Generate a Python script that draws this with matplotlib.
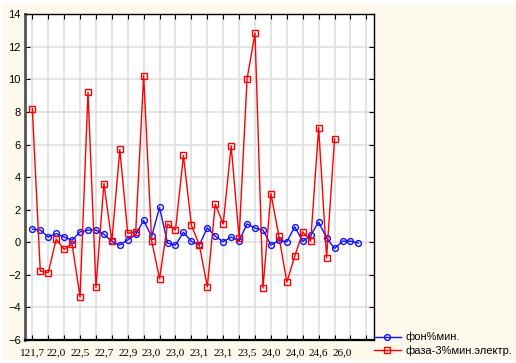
import numpy as np
import matplotlib
matplotlib.use("Agg")
import matplotlib.pyplot as plt
from matplotlib.patches import Rectangle

# --- data ---
fon = [0.81, 0.75, 0.32, 0.54, 0.32, 0.13, 0.64, 0.75, 0.75, 0.50,
       0.05, -0.17, 0.15, 0.48, 1.34, 0.36, 2.14, -0.05, -0.17, 0.62,
       0.05, -0.17, 0.89, 0.38, 0.03, 0.32, 0.09, 1.13, 0.87, 0.75,
       -0.17, 0.11, 0.03, 0.95, 0.05, 0.44, 1.24, 0.26, -0.38, 0.07,
       0.07, -0.05]
faza = [8.21, -1.77, -1.87, 0.19, -0.44, -0.11, -3.36, 9.21, -2.77, 3.61,
        0.05, 5.70, 0.54, 0.66, 10.24, 0.09, -2.24, 1.13, 0.75, 5.33,
        1.05, -0.17, -2.73, 2.34, 1.13, 5.92, 0.26, 10.03, 12.85, -2.81,
        2.99, 0.38, -2.44, -0.85, 0.64, 0.07, 7.04, -0.95, 6.35]
x_labels = ["121,7", "22,0", "22,5", "22,7", "22,9", "23,0", "23,0",
            "23,1", "23,1", "23,5", "24,0", "24,0", "24,6", "26,0"]
name_fon = "фон%мин."
name_faza = "фаза-3%мин.электр."

W, H = 516, 363
fig = plt.figure(figsize=(W / 100, H / 100), dpi=100, facecolor="white")
fig.patches.append(Rectangle((3 / W, 3 / H), 1, 1 - 6 / H, transform=fig.transFigure,
                             facecolor="#fef9ed", edgecolor="none", zorder=-10))

ax = fig.add_axes([25 / W, 1 - 340 / H, (374 - 25) / W, (340 - 14.3) / H])
ax.set_facecolor("white")

ax.plot(np.arange(len(fon)), fon, color="#1010ff", lw=1.0, marker="o", ms=4.2,
        mfc="none", mec="#1010ff", mew=1.0, label=name_fon, zorder=3)
ax.plot(np.arange(len(faza)), faza, color="#ff0000", lw=1.0, marker="s", ms=4.2,
        mfc="none", mec="#ff0000", mew=1.0, label=name_faza, zorder=3)

ax.set_xlim(-0.92, 42.96)
ax.set_ylim(-6, 14)
ax.set_yticks(np.arange(-6, 15, 2))
ax.xaxis.remove_overlapping_locs = False
ax.set_xticks(np.arange(0, 43, 2))
ax.set_xticklabels([])
ax.set_xticks(np.arange(0, 3 * len(x_labels), 3), x_labels, minor=True)
ax.tick_params(axis="x", which="minor", length=0, pad=6, labelsize=8,
               labelfontfamily="Liberation Serif")
ax.tick_params(axis="both", which="major", direction="in", length=3.5,
               width=0.8, top=True, right=True)
ax.tick_params(axis="y", labelsize=8, pad=3, labelfontfamily="Liberation Sans")

ax.grid(True, which="major", color="#dcdcdc", lw=1.1)
ax.set_axisbelow(True)

ax.spines["left"].set_linewidth(2.0)
ax.spines["left"].set_color("#555555")
ax.spines["bottom"].set_linewidth(1.6)
ax.spines["top"].set_linewidth(1.0)
ax.spines["right"].set_linewidth(1.0)

fig.legend(loc="upper left", bbox_to_anchor=(374 / W, 1 - 332 / H), frameon=False,
           handlelength=2.4, handletextpad=0.4, labelspacing=0.25,
           borderaxespad=0, borderpad=0, prop={"family": "Liberation Sans", "size": 8})

fig.savefig("out.png", dpi=100, facecolor=fig.get_facecolor())
